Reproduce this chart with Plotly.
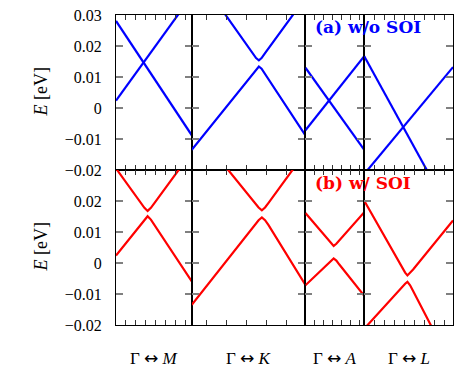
import plotly.graph_objects as go
from plotly.subplots import make_subplots

# ---------------- data ----------------
paths = ["M", "K", "A", "L"]
path_length = [7.6, 11.4, 5.9, 8.9]      # k-range of each path (arb. units)
tick_start = [1, 1.5, 0.9, 1]
tick_step = [1, 2, 0.9, 1]

e_ticks_top = [-0.02, -0.01, 0, 0.01, 0.02, 0.03]
e_labels_top = ["\u22120.02", "\u22120.01", "0", "0.01", "0.02", "0.03"]
e_ticks_bot = [-0.02, -0.01, 0, 0.01, 0.02]
e_labels_bot = ["\u22120.02", "\u22120.01", "0", "0.01", "0.02"]

# (a) without SOI
noSOI_M_k1 = [0, 7.6]
noSOI_M_E1 = [0.0281, -0.0088]
noSOI_M_k2 = [0, 7.6]
noSOI_M_E2 = [0.0024, 0.0362]

noSOI_K_klo = [0, 6.1, 6.45, 6.73, 7.0, 7.35, 11.4]
noSOI_K_Elo = [-0.0135, 0.0109, 0.0126, 0.0134, 0.0127, 0.0110, -0.0088]
noSOI_K_kup = [3.0, 6.1, 6.45, 6.73, 7.0, 7.35, 10.5]
noSOI_K_Eup = [0.0318, 0.0178, 0.0161, 0.0154, 0.0161, 0.0177, 0.0316]

noSOI_A_k1 = [0, 5.9]
noSOI_A_E1 = [0.0130, -0.0135]
noSOI_A_k2 = [0, 5.9]
noSOI_A_E2 = [-0.0072, 0.0167]

noSOI_L_k1 = [0, 8.9]
noSOI_L_E1 = [0.0167, -0.0354]
noSOI_L_k2 = [0, 8.9]
noSOI_L_E2 = [-0.0213, 0.0132]

# (b) with SOI
SOI_M_k = [0, 2.5, 2.85, 3.17, 3.5, 3.85, 7.6]
SOI_M_Eup = [0.0305, 0.0193, 0.0178, 0.0168, 0.0178, 0.0193, 0.0358]
SOI_M_Elo = [0.0024, 0.0126, 0.0141, 0.0151, 0.0140, 0.0123, -0.0059]

SOI_K_klo = [0, 6.35, 6.7, 7.03, 7.35, 7.7, 11.4]
SOI_K_Elo = [-0.0135, 0.0123, 0.0138, 0.0147, 0.0138, 0.0122, -0.0071]
SOI_K_kup = [3.2, 6.35, 6.7, 7.03, 7.35, 7.7, 10.6]
SOI_K_Eup = [0.0318, 0.0194, 0.0179, 0.0170, 0.0179, 0.0194, 0.0322]

SOI_A_k = [0, 2.3, 2.6, 2.83, 3.1, 3.4, 5.9]
SOI_A_Eup = [0.0161, 0.0073, 0.0062, 0.0055, 0.0062, 0.0073, 0.0164]
SOI_A_Elo = [-0.0072, 0.0000, 0.0008, 0.0015, 0.0008, -0.0005, -0.0106]

SOI_L_k = [0, 3.8, 4.1, 4.33, 4.6, 4.9, 8.9]
SOI_L_Eup = [0.0201, -0.0015, -0.0031, -0.0040, -0.0032, -0.0021, 0.0137]
SOI_L_Elo = [-0.0212, -0.0076, -0.0067, -0.0061, -0.0072, -0.0090, -0.0339]

# ---------------- figure ----------------
BLUE = "#0000ff"
RED = "#ff0000"
SERIF = "Liberation Serif"

fig = make_subplots(rows=2, cols=4, column_widths=[76, 114, 59, 89],
                    horizontal_spacing=0, vertical_spacing=0)

top_bands = [
    [(noSOI_M_k1, noSOI_M_E1), (noSOI_M_k2, noSOI_M_E2)],
    [(noSOI_K_klo, noSOI_K_Elo), (noSOI_K_kup, noSOI_K_Eup)],
    [(noSOI_A_k1, noSOI_A_E1), (noSOI_A_k2, noSOI_A_E2)],
    [(noSOI_L_k1, noSOI_L_E1), (noSOI_L_k2, noSOI_L_E2)],
]
bot_bands = [
    [(SOI_M_k, SOI_M_Eup), (SOI_M_k, SOI_M_Elo)],
    [(SOI_K_klo, SOI_K_Elo), (SOI_K_kup, SOI_K_Eup)],
    [(SOI_A_k, SOI_A_Eup), (SOI_A_k, SOI_A_Elo)],
    [(SOI_L_k, SOI_L_Eup), (SOI_L_k, SOI_L_Elo)],
]

for row, bands, color in [(1, top_bands, BLUE), (2, bot_bands, RED)]:
    for c in range(4):
        for k, e in bands[c]:
            fig.add_trace(go.Scatter(x=k, y=e, mode="lines",
                                     line=dict(color=color, width=2.2),
                                     showlegend=False, hoverinfo="skip"),
                          row=row, col=c + 1)

for row in (1, 2):
    for c in range(4):
        fig.update_xaxes(range=[0, path_length[c]], tick0=tick_start[c], dtick=tick_step[c],
                         ticks="inside", ticklen=5, tickwidth=1, tickcolor="#333",
                         showticklabels=False, showgrid=False, zeroline=False,
                         showline=True, linecolor="black", linewidth=1, mirror="ticks",
                         row=row, col=c + 1)
        tv = e_ticks_top if row == 1 else e_ticks_bot
        tt = e_labels_top if row == 1 else e_labels_bot
        fig.update_yaxes(range=[-0.02, 0.03], tickvals=tv, ticktext=tt,
                         ticks="inside", ticklen=7, tickwidth=1.5, tickcolor="#808080",
                         showticklabels=(c == 0), ticklabelstandoff=10,
                         tickfont=dict(family=SERIF, size=16, color="black"),
                         showgrid=False, zeroline=False,
                         showline=True, linecolor="black", linewidth=1, mirror="ticks",
                         row=row, col=c + 1)

ARROW = "<span style=\"font-family:'DejaVu Sans'\">\u2194</span>"
annotations = []
for c, p in enumerate(paths):
    annotations.append(dict(text="\u0393 " + ARROW + " <i>%s</i>" % p, xref="x%d domain" % (c + 5),
                            x=0.5, yref="paper", y=0, yshift=-33, yanchor="middle",
                            showarrow=False, font=dict(family=SERIF, size=17, color="black")))
for yd in ("y domain", "y5 domain"):
    annotations.append(dict(text="<i>E</i> [eV]", xref="paper", x=0, xshift=-88,
                            yref=yd, y=0.5, textangle=-90, showarrow=False,
                            font=dict(family=SERIF, size=18, color="black")))
annotations.append(dict(text="<b>(a) w/o SOI</b>", xref="paper", x=0.585, xanchor="left",
                        yref="y domain", y=0.925, yanchor="middle", showarrow=False,
                        font=dict(family="DejaVu Serif", size=17, color=BLUE)))
annotations.append(dict(text="<b>(b) w/ SOI</b>", xref="paper", x=0.585, xanchor="left",
                        yref="y5 domain", y=0.915, yanchor="middle", showarrow=False,
                        font=dict(family="DejaVu Serif", size=17, color=RED)))

fig.update_layout(width=461, height=367, margin=dict(l=116, r=7, t=10, b=42),
                  plot_bgcolor="white", paper_bgcolor="white",
                  annotations=annotations)

fig.write_html("out.html")
